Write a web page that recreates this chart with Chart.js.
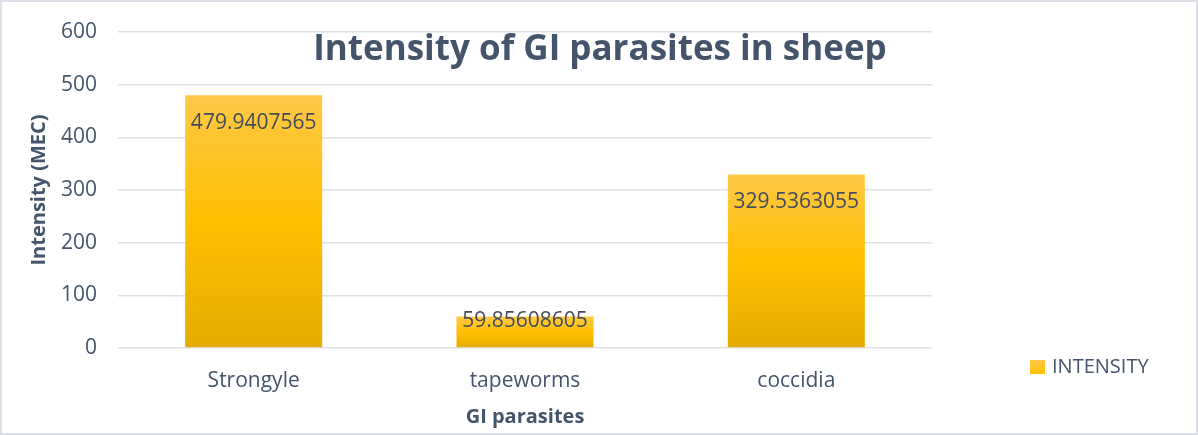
<!DOCTYPE html>
<html lang="en">
<head>
  <meta charset="UTF-8">
  <title>Intensity of GI parasites in sheep</title>
  <script src="https://cdn.jsdelivr.net/npm/chart.js"></script>
  <style>
    body { margin: 0; background: #fff; }
    .wrap {
      position: relative;
      width: 1198px;
      height: 435px;
      box-sizing: border-box;
      border: 2px solid #DCE0E6;
    }
  </style>
</head>
<body>
  <div class="wrap">
    <canvas id="chart"></canvas>
  </div>

  <script>
    // chart data
    const parasites = ['Strongyle', 'tapeworms', 'coccidia'];
    const intensity = [479.9407565, 59.85608605, 329.5363055];
    const yTicks = [0, 100, 200, 300, 400, 500, 600];

    const textColor = '#44546A';
    const font = "'Open Sans', sans-serif";

    // per-bar vertical gradient (light top, darker bottom)
    function barFill(ctx) {
      const chart = ctx.chart;
      if (!chart.chartArea) return '#FFC000';
      const y = chart.scales.y;
      const top = y.getPixelForValue(ctx.raw);
      const bottom = y.getPixelForValue(0);
      const g = chart.ctx.createLinearGradient(0, top, 0, bottom);
      g.addColorStop(0, '#FFC847');
      g.addColorStop(0.5, '#FFC000');
      g.addColorStop(1, '#E4AC00');
      return g;
    }

    // value labels inside the bars, title and legend
    const extras = {
      id: 'extras',
      afterDatasetsDraw(chart) {
        const c = chart.ctx;
        const meta = chart.getDatasetMeta(0);
        c.save();
        c.font = '21px ' + font;
        c.fillStyle = '#434C5B';
        c.textAlign = 'center';
        c.textBaseline = 'middle';
        meta.data.forEach((bar, i) => {
          const y = Math.min(bar.y + 28, bar.base - 26);
          c.fillText(String(intensity[i]), bar.x, y);
        });
        c.restore();
      },
      afterDraw(chart) {
        const c = chart.ctx;
        c.save();
        // title
        c.font = 'bold 35px ' + font;
        c.fillStyle = textColor;
        c.textAlign = 'center';
        c.textBaseline = 'alphabetic';
        c.fillText('Intensity of GI parasites in sheep', 598, 58);

        // legend
        const g = c.createLinearGradient(0, 358, 0, 372);
        g.addColorStop(0, '#FFC847');
        g.addColorStop(1, '#FFC000');
        c.fillStyle = g;
        c.fillRect(1028, 358, 15, 14);
        c.font = '20px ' + font;
        c.fillStyle = textColor;
        c.textAlign = 'left';
        c.textBaseline = 'middle';
        c.fillText(chart.data.datasets[0].label, 1050, 365);
        c.restore();
      }
    };

    new Chart(document.getElementById('chart'), {
      type: 'bar',
      data: {
        labels: parasites,
        datasets: [{
          label: 'INTENSITY',
          data: intensity,
          backgroundColor: barFill,
          borderWidth: 0,
          categoryPercentage: 1,
          barPercentage: 0.505
        }]
      },
      options: {
        responsive: true,
        maintainAspectRatio: false,
        animation: false,
        layout: { padding: { left: 25, right: 264, top: 30, bottom: 4 } },
        plugins: {
          legend: { display: false },
          tooltip: { enabled: false }
        },
        scales: {
          x: {
            grid: { display: false, drawTicks: false },
            border: { display: false },
            ticks: { color: textColor, font: { family: font, size: 21 }, padding: 20 },
            title: {
              display: true,
              text: 'GI parasites',
              color: textColor,
              font: { family: font, size: 20, weight: 'bold' },
              padding: { top: 14, bottom: 0 }
            },
            afterFit(axis) { axis.height = 81; }
          },
          y: {
            min: 0,
            max: 600,
            afterBuildTicks(axis) {
              axis.ticks = yTicks.map(v => ({ value: v }));
            },
            grid: { color: '#DEE2E8', lineWidth: 1.5, drawTicks: false },
            border: { display: false },
            ticks: { color: textColor, font: { family: font, size: 21 }, padding: 21 },
            title: {
              display: true,
              text: 'Intensity (MEC)',
              color: textColor,
              font: { family: font, size: 20, weight: 'bold' },
              padding: { top: 0, bottom: 10 }
            },
            afterFit(axis) {
              axis.width = 91;
              axis.paddingTop = 0;
              axis.paddingBottom = 0;
            }
          }
        }
      },
      plugins: [extras]
    });
  </script>
</body>
</html>
